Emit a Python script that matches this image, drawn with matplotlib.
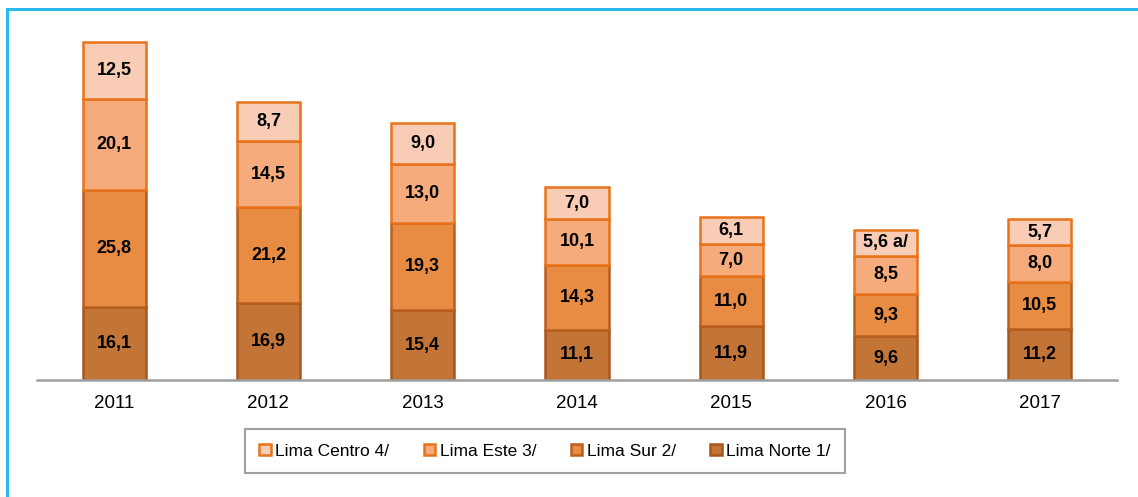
import matplotlib.pyplot as plt
from matplotlib.patches import Rectangle
import numpy as np

# Data
years = ['2011', '2012', '2013', '2014', '2015', '2016', '2017']
lima_norte = [16.1, 16.9, 15.4, 11.1, 11.9, 9.6, 11.2]
lima_sur = [25.8, 21.2, 19.3, 14.3, 11.0, 9.3, 10.5]
lima_este = [20.1, 14.5, 13.0, 10.1, 7.0, 8.5, 8.0]
lima_centro = [12.5, 8.7, 9.0, 7.0, 6.1, 5.6, 5.7]
centro_notes = ['', '', '', '', '', ' a/', '']

series = [
    ('Lima Norte 1/', lima_norte, '#C37538', '#A9561C'),
    ('Lima Sur 2/', lima_sur, '#E88C44', '#B85E1E'),
    ('Lima Este 3/', lima_este, '#F6AB7C', '#E8731A'),
    ('Lima Centro 4/', lima_centro, '#F9CCB5', '#E8731A'),
]

plt.rcParams['font.family'] = ['Liberation Sans', 'DejaVu Sans']

fig = plt.figure(figsize=(11.38, 4.97), dpi=100)
ax = fig.add_axes([37 / 1138, 117 / 497, 1080 / 1138, 363 / 497])

x = np.arange(len(years))
bottom = np.zeros(len(years))
handles = {}
for name, vals, fc, ec in series:
    vals = np.array(vals)
    bars = ax.bar(x, vals, width=0.41, bottom=bottom, color=fc,
                  edgecolor=ec, linewidth=1.8, label=name, zorder=2)
    handles[name] = bars
    for i, v in enumerate(vals):
        txt = f'{v:.1f}'.replace('.', ',')
        if name == 'Lima Centro 4/':
            txt += centro_notes[i]
        ax.text(x[i], bottom[i] + v / 2, txt, ha='center', va='center',
                fontsize=13, fontweight='bold', color='black', zorder=3)
    bottom += vals

ax.set_xlim(-0.5, len(years) - 0.5)
ax.set_ylim(0, 80)
ax.set_xticks(x)
ax.set_xticklabels(years, fontsize=13.5)
ax.tick_params(axis='x', length=0, pad=11)
ax.set_yticks([])
for s in ['top', 'right', 'left']:
    ax.spines[s].set_visible(False)
ax.spines['bottom'].set_color('#A0A0A0')
ax.spines['bottom'].set_linewidth(1.8)

order = ['Lima Centro 4/', 'Lima Este 3/', 'Lima Sur 2/', 'Lima Norte 1/']
leg = fig.legend([handles[n] for n in order], order, ncol=4,
                 loc='center', bbox_to_anchor=(545 / 1138, 46 / 497),
                 fontsize=12.5, frameon=True, fancybox=False,
                 handlelength=0.65, handleheight=0.65, handletextpad=0.25,
                 columnspacing=2.0, borderpad=0.85, borderaxespad=0)
leg.get_frame().set_edgecolor('#888888')
leg.get_frame().set_linewidth(1.5)

# cyan frame around the figure
fig.patches.append(Rectangle((7 / 1138, -0.1), 1.2, 1.1 - 9 / 497,
                             transform=fig.transFigure, fill=False,
                             edgecolor='#2BB8EA', linewidth=2.2))

fig.savefig('out.png', dpi=100)
